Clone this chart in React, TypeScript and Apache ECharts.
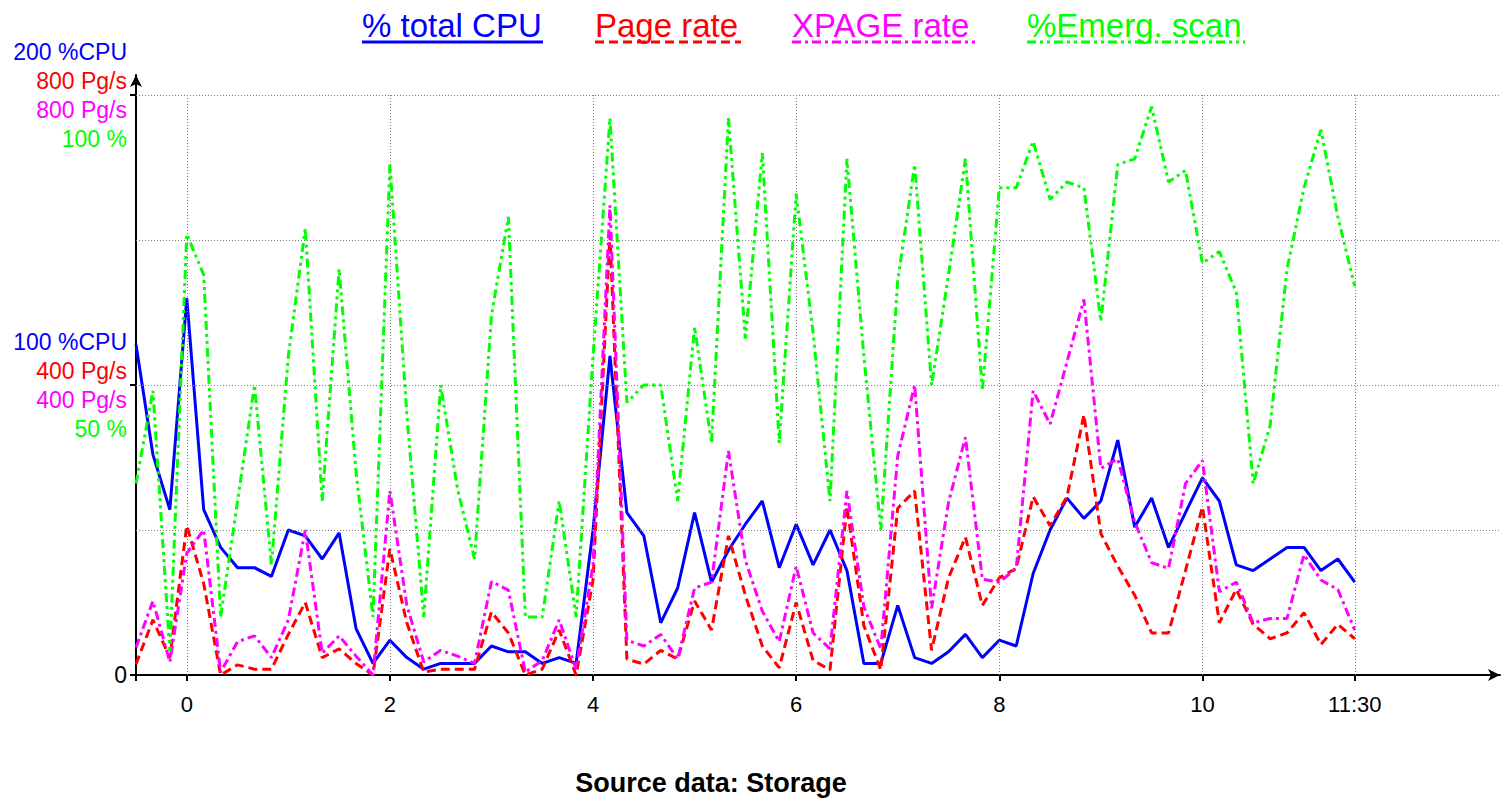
import React, { useEffect, useRef } from "react";
import * as echarts from "echarts";

const FONT = "'Liberation Sans', Arial, Helvetica, sans-serif";

// Sampling: one point every 10 minutes starting at -0:30
const startHour = -0.5;
const stepMinutes = 10;

// % total CPU (0-200 %CPU)
const cpuTotal = [
  114, 76, 57, 130, 57, 44, 37, 37, 34, 50, 48, 40, 49, 16, 4, 12, 6, 2, 4, 4,
  4, 10, 8, 8, 4, 6, 4, 50, 110, 56, 48, 18, 30, 56, 32, 43, 52, 60, 37, 52,
  38, 50, 36, 4, 4, 24, 6, 4, 8, 14, 6, 12, 10, 35, 50, 61, 54, 60, 81, 51,
  61, 44, 56, 68, 60, 38, 36, 40, 44, 44, 36, 40, 32,
];

// Page rate (0-800 Pg/s)
const pageRate = [
  15, 76, 24, 206, 126, 0, 14, 8, 8, 56, 100, 24, 36, 16, 0, 174, 72, 4, 8, 8,
  8, 87, 58, 0, 8, 62, 0, 131, 608, 22, 15, 34, 22, 102, 62, 192, 110, 40, 10, 100,
  20, 7, 232, 68, 7, 230, 254, 34, 134, 190, 96, 134, 147, 246, 206, 246, 359, 195, 150, 110,
  58, 58, 144, 232, 72, 118, 70, 50, 58, 86, 42, 70, 50,
];

// XPAGE rate (0-800 Pg/s)
const xpageRate = [
  38, 102, 18, 168, 200, 4, 46, 54, 24, 76, 200, 30, 54, 26, 0, 254, 96, 18, 34, 26,
  16, 129, 117, 4, 20, 76, 8, 152, 648, 48, 40, 56, 22, 120, 128, 309, 158, 88, 46, 150,
  58, 36, 254, 94, 36, 302, 400, 92, 238, 328, 132, 128, 147, 392, 346, 432, 518, 285, 298, 211,
  155, 147, 264, 296, 115, 128, 72, 78, 78, 166, 131, 118, 62,
];

// %Emerg. scan (0-100 %)
const emergScan = [
  33, 49, 4, 76, 69, 10, 30, 50, 19, 55, 77, 30, 70, 35, 10, 88, 45, 10, 50, 32,
  20, 62, 79, 10, 10, 30, 10, 55, 96, 47, 50, 50, 30, 60, 40, 96, 58, 90, 40, 83,
  59, 30, 89, 55, 25, 68, 88, 50, 69, 89, 49, 84, 84, 92, 82, 85, 84, 61, 88, 89,
  98, 85, 87, 71, 73, 66, 33, 43, 70, 84, 94, 79, 67,
];

const times = cpuTotal.map((_, i) => startHour + (i * stepMinutes) / 60);

const xTickValues = [0, 2, 4, 6, 8, 10, 11.5];
const xTickLabels = ["0", "2", "4", "6", "8", "10", "11:30"];
const cpuGridValues = [50, 100, 150, 200];
const cpuLabelValues = [0, 100, 200];

const seriesNames = ["% total CPU", "Page rate", "XPAGE rate", "%Emerg. scan"];
const seriesColors = ["#0000ff", "#ff0000", "#ff00ff", "#00ff00"];
const seriesDash: (string | number[])[] = ["solid", [9, 5], [9, 4, 3, 4], [9, 4, 3, 4, 3, 4]];

const CPU_MAX = 200;
const PG_MAX = 800;
const PCT_MAX = 100;
// axis line extends a little above the top grid line (arrow)
const EXT = 600 / 580;

const legendItems = [
  { x: 362, w: 181 },
  { x: 595, w: 146 },
  { x: 792, w: 183 },
  { x: 1027, w: 218 },
];

function pairs(vals: number[]) {
  return vals.map((v, i) => [times[i], v]);
}

export default function App() {
  const ref = useRef<HTMLDivElement>(null);

  useEffect(() => {
    document.body.style.margin = "0";
    if (!ref.current) return;
    const chart = echarts.init(ref.current, undefined, { renderer: "svg" });

    const gridLineStyle = { color: "#808080", width: 1, type: [1, 2] as number[] };

    const yLabel = (v: number) => {
      if (v === 200) return "{b|200 %CPU}\n{r|800 Pg/s}\n{m|800 Pg/s}\n{g|100 %}";
      if (v === 100) return "{b|100 %CPU}\n{r|400 Pg/s}\n{m|400 Pg/s}\n{g|50 %}";
      if (v === 0) return "{k|0}";
      return "";
    };
    const richBase = { fontSize: 23, lineHeight: 29, fontFamily: FONT, align: "right" as const };

    const graphics: any[] = [];
    seriesNames.forEach((name, k) => {
      const it = legendItems[k];
      graphics.push({
        type: "text",
        x: it.x,
        y: 25,
        style: {
          text: name,
          fill: seriesColors[k],
          font: `33px ${FONT}`,
          align: "left",
          verticalAlign: "middle",
        },
      });
      graphics.push({
        type: "line",
        shape: { x1: it.x, y1: 42, x2: it.x + it.w, y2: 42 },
        style: {
          stroke: seriesColors[k],
          lineWidth: 3,
          lineDash: seriesDash[k] === "solid" ? null : seriesDash[k],
        },
      });
    });
    graphics.push({
      type: "text",
      x: 711,
      y: 783,
      style: {
        text: "Source data: Storage",
        fill: "#000",
        font: `bold 27px ${FONT}`,
        align: "center",
        verticalAlign: "middle",
      },
    });

    const dataSets = [cpuTotal, pageRate, xpageRate, emergScan];

    const option: any = {
      animation: false,
      backgroundColor: "#ffffff",
      grid: { left: 136, right: 6, top: 75, bottom: 129, containLabel: false },
      xAxis: {
        type: "value",
        min: -0.5,
        max: 12.93,
        axisLine: {
          show: true,
          onZero: false,
          lineStyle: { color: "#000", width: 2 },
          symbol: ["none", "arrow"],
          symbolSize: [9, 12],
        },
        axisTick: {
          show: true,
          length: 6,
          lineStyle: { color: "#000", width: 2 },
          customValues: [-0.5, ...xTickValues],
        },
        axisLabel: {
          show: true,
          margin: 18,
          color: "#000",
          fontSize: 22,
          fontFamily: FONT,
          customValues: xTickValues,
          formatter: (v: number) => {
            const idx = xTickValues.indexOf(v);
            return idx >= 0 ? xTickLabels[idx] : "";
          },
        },
        splitLine: { show: false },
      },
      yAxis: [
        {
          type: "value",
          min: 0,
          max: CPU_MAX * EXT,
          position: "left",
          axisLine: {
            show: true,
            onZero: false,
            lineStyle: { color: "#000", width: 2 },
            symbol: ["none", "arrow"],
            symbolSize: [9, 12],
          },
          axisTick: {
            show: true,
            length: 6,
            lineStyle: { color: "#000", width: 2 },
            customValues: cpuLabelValues,
          },
          axisLabel: {
            show: true,
            margin: 9,
            customValues: cpuLabelValues,
            formatter: yLabel,
            rich: {
              b: { ...richBase, color: "#0000ff" },
              r: { ...richBase, color: "#ff0000" },
              m: { ...richBase, color: "#ff00ff" },
              g: { ...richBase, color: "#00ff00" },
              k: { ...richBase, color: "#000000" },
            },
          },
          splitLine: { show: false },
        },
        { type: "value", min: 0, max: PG_MAX * EXT, show: false, splitLine: { show: false } },
        { type: "value", min: 0, max: PG_MAX * EXT, show: false, splitLine: { show: false } },
        { type: "value", min: 0, max: PCT_MAX * EXT, show: false, splitLine: { show: false } },
      ],
      series: [
        {
          name: "grid",
          type: "line",
          data: [],
          yAxisIndex: 0,
          z: 1,
          silent: true,
          markLine: {
            silent: true,
            symbol: ["none", "none"],
            label: { show: false },
            lineStyle: gridLineStyle,
            data: [
              ...cpuGridValues.map((v) => ({ yAxis: v })),
              ...xTickValues.map((t) => [{ coord: [t, 0] }, { coord: [t, CPU_MAX] }]),
            ],
          },
        },
        ...seriesNames.map((name, k) => ({
          name,
          type: "line",
          yAxisIndex: k,
          z: 2 + k,
          data: pairs(dataSets[k]),
          showSymbol: false,
          symbol: "none",
          lineStyle: {
            color: seriesColors[k],
            width: 3,
            type: seriesDash[k],
          },
          itemStyle: { color: seriesColors[k] },
        })),
      ],
      graphic: graphics,
    };

    chart.setOption(option);
    return () => chart.dispose();
  }, []);

  return <div ref={ref} style={{ width: 1506, height: 804 }} />;
}
